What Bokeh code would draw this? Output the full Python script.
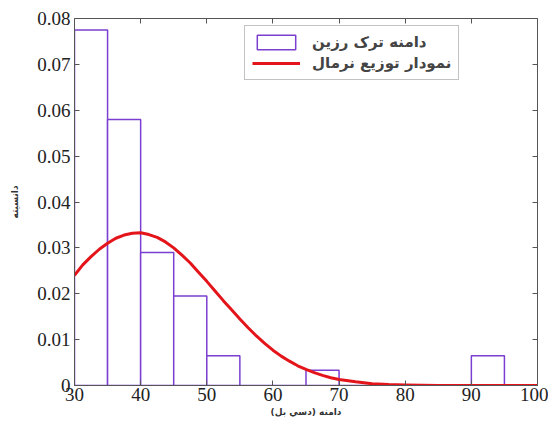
from bokeh.plotting import figure
from bokeh.models import Range1d, LinearAxis, FixedTicker, Legend, LegendItem, CustomJSTickFormatter
from bokeh.embed import file_html
from bokeh.resources import INLINE

# histogram bins (dB) and densities
bin_left = [30, 35, 40, 45, 50, 55, 60, 65, 70, 75, 80, 85, 90]
bin_right = [35, 40, 45, 50, 55, 60, 65, 70, 75, 80, 85, 90, 95]
density = [0.0775, 0.058, 0.029, 0.0195, 0.0065, 0.0, 0.0, 0.0033, 0.0, 0.0, 0.0, 0.0, 0.0065]

# normal distribution curve points
curve_x = [30, 31.25, 32.5, 33.75, 35, 36.25, 37.5, 38.75, 40, 41.25, 42.5, 43.75, 45,
           46.25, 47.5, 48.75, 50, 51.25, 52.5, 53.75, 55, 56.25, 57.5, 58.75, 60,
           61.25, 62.5, 63.75, 65, 66.25, 67.5, 68.75, 70, 72.5, 75, 77.5, 80, 85, 90, 95, 100]
curve_y = [0.0240, 0.0263, 0.0281, 0.0297, 0.0310, 0.0321, 0.0328, 0.0332, 0.0333,
           0.0329, 0.0323, 0.0313, 0.0300, 0.0284, 0.0267, 0.0247, 0.0227, 0.0206,
           0.0185, 0.0165, 0.0145, 0.0126, 0.0108, 0.0092, 0.0077, 0.0064, 0.0053,
           0.0043, 0.0035, 0.0028, 0.0022, 0.0017, 0.0013, 0.0008, 0.0004, 0.0002,
           0.0001, 0.0, 0.0, 0.0, 0.0]

x_ticks = [30, 40, 50, 60, 70, 80, 90, 100]
y_ticks = [0, 0.01, 0.02, 0.03, 0.04, 0.05, 0.06, 0.07, 0.08]

legend_hist = "دامنه ترک رزین"
legend_norm = "نمودار توزیع نرمال"
x_title = "دامنه (دسي بل)"
y_title = "دانسیته"

p = figure(width=548, height=428, output_backend="svg", toolbar_location=None,
           x_range=Range1d(30, 100), y_range=Range1d(0, 0.08),
           min_border_left=74, min_border_right=11, min_border_top=18, min_border_bottom=43)

bars = p.quad(left=bin_left, right=bin_right, bottom=0, top=density,
              fill_color="white", line_color="#7A3FD0", line_width=1.5)
curve = p.line(curve_x, curve_y, line_color="#E3151B", line_width=3, line_join="round")

serif = "Times New Roman"
for ax in (p.xaxis[0], p.yaxis[0]):
    ax.major_label_text_font = serif
    ax.major_label_text_font_size = "19px"
    ax.major_label_text_color = "#222222"
    ax.axis_line_color = "#555555"
    ax.major_tick_in = 5
    ax.major_tick_out = 0
    ax.minor_tick_line_color = None
    ax.major_tick_line_color = "#555555"
    ax.axis_label_text_font = "DejaVu Sans"
    ax.axis_label_text_font_style = "bold"
    ax.axis_label_text_font_size = "9px"
    ax.axis_label_text_color = "#333333"

p.xaxis[0].ticker = FixedTicker(ticks=x_ticks)
p.yaxis[0].ticker = FixedTicker(ticks=y_ticks)
p.yaxis[0].formatter = CustomJSTickFormatter(code="return tick == 0 ? '0' : tick.toFixed(2);")
p.xaxis[0].axis_label = x_title
p.yaxis[0].axis_label = y_title
p.xaxis[0].major_label_standoff = 2
p.yaxis[0].major_label_standoff = 4
p.xaxis[0].axis_label_standoff = 3
p.yaxis[0].axis_label_standoff = 14

blank = CustomJSTickFormatter(code="return '';")
top_ax = LinearAxis(ticker=FixedTicker(ticks=x_ticks), formatter=blank,
                    major_tick_in=5, major_tick_out=0, minor_tick_line_color=None,
                    axis_line_color="#555555", major_tick_line_color="#555555", major_label_standoff=0)
right_ax = LinearAxis(ticker=FixedTicker(ticks=y_ticks), formatter=blank,
                      major_tick_in=5, major_tick_out=0, minor_tick_line_color=None,
                      axis_line_color="#555555", major_tick_line_color="#555555", major_label_standoff=0)
p.add_layout(top_ax, "above")
p.add_layout(right_ax, "right")

p.xgrid.grid_line_color = None
p.ygrid.grid_line_color = None
p.outline_line_color = None

legend = Legend(items=[LegendItem(label=legend_hist, renderers=[bars]),
                       LegendItem(label=legend_norm, renderers=[curve])],
                location=(170, 305), orientation="vertical")
legend.label_text_font = "DejaVu Sans"
legend.label_text_font_style = "bold"
legend.label_text_font_size = "15px"
legend.border_line_color = "#888888"
legend.glyph_width = 48
legend.glyph_height = 18
legend.spacing = 3
legend.padding = 7
legend.margin = 0
legend.label_standoff = 12
p.add_layout(legend, "center")

open("out.html", "w").write(file_html(p, INLINE))
